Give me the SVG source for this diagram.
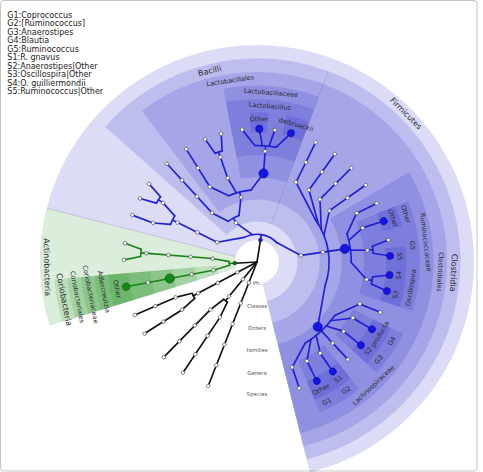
<svg xmlns="http://www.w3.org/2000/svg" width="483" height="472" viewBox="0 0 483 472">
<style>
.sec{fill:none}
.sb{stroke:#2828c8;stroke-opacity:.16}
.sg{stroke:#1e8c1e;stroke-opacity:.16}
.k{stroke:#111}
.bl{stroke:#1f1fd8}
.gl{stroke:#178417}
#connectors line,#connectors circle{fill:none;stroke-width:1.65;stroke-linecap:round}
.n{fill:#fff;stroke:#555;stroke-width:.7}
.bb{fill:#1515e6;stroke:#0c0c8c;stroke-width:.6}
.gg{fill:#148c14;stroke:#0b500b;stroke-width:.6}
.bd{fill:#1a1ac8;stroke:#0c0c70;stroke-width:.5}
.gd{fill:#136813;stroke:#0a400a;stroke-width:.5}
.t{font-family:"DejaVu Sans",sans-serif;fill:#2a2a2a;text-anchor:middle;dominant-baseline:central}
.c{font-size:8px}
.s{font-size:6.5px}
.lv{font-family:"DejaVu Sans",sans-serif;font-size:5.3px;fill:#555;text-anchor:middle;dominant-baseline:central}
.lg{font-family:"DejaVu Sans",sans-serif;font-size:8px;fill:#222}
</style>
<rect x="0.5" y="0.5" width="476.5" height="470.5" rx="3" fill="#fff" stroke="#c4c4c4"/>
<g id="legend" class="lg">
<text x="7.3" y="17.6">G1:Coprococcus</text>
<text x="7.3" y="26.1">G2:[Ruminococcus]</text>
<text x="7.3" y="34.6">G3:Anaerostipes</text>
<text x="7.3" y="43.2">G4:Blautia</text>
<text x="7.3" y="51.7">G5:Ruminococcus</text>
<text x="7.3" y="60.2">S1:R. gnavus</text>
<text x="7.3" y="68.7">S2:Anaerostipes|Other</text>
<text x="7.3" y="77.2">S3:Oscillospira|Other</text>
<text x="7.3" y="85.8">S4:O. guilliermondii</text>
<text x="7.3" y="94.3">S5:Ruminococcus|Other</text>
</g>
<g id="cladogram" transform="translate(257 262)">
<!-- clade shading: thick dashed circles give annular sectors, one per highlighted clade -->
<g id="shading" class="sec">
<circle class="sb" r="117.6" stroke-width="198.8" stroke-dasharray="495.58 2000" transform="rotate(194.35)"/>
<circle class="sb" r="121.95" stroke-width="163.1" stroke-dasharray="146.33 2000" transform="rotate(221.7)"/>
<circle class="sb" r="126.3" stroke-width="127.4" stroke-dasharray="127.3 2000" transform="rotate(232.7)"/>
<circle class="sb" r="130.65" stroke-width="91.7" stroke-dasharray="71.72 2000" transform="rotate(259)"/>
<circle class="sb" r="135" stroke-width="56" stroke-dasharray="74.1 2000" transform="rotate(259)"/>
<circle class="sb" r="139.35" stroke-width="20.3" stroke-dasharray="17.15 2000" transform="rotate(267.3)"/>
<circle class="sb" r="139.35" stroke-width="20.3" stroke-dasharray="22.38 2000" transform="rotate(281.25)"/>
<circle class="sb" r="121.95" stroke-width="163.1" stroke-dasharray="309.37 2000" transform="rotate(290.45)"/>
<circle class="sb" r="126.3" stroke-width="127.4" stroke-dasharray="320.4 2000" transform="rotate(290.45)"/>
<circle class="sb" r="130.65" stroke-width="91.7" stroke-dasharray="109.68 2000" transform="rotate(329.3)"/>
<circle class="sb" r="135" stroke-width="56" stroke-dasharray="19.56 2000" transform="rotate(338)"/>
<circle class="sb" r="139.35" stroke-width="20.3" stroke-dasharray="20.19 2000" transform="rotate(338)"/>
<circle class="sb" r="135" stroke-width="56" stroke-dasharray="35.81 2000" transform="rotate(346.3)"/>
<circle class="sb" r="139.35" stroke-width="20.3" stroke-dasharray="18.36 2000" transform="rotate(353.95)"/>
<circle class="sb" r="135" stroke-width="56" stroke-dasharray="37.46 2000" transform="rotate(1.5)"/>
<circle class="sb" r="139.35" stroke-width="20.3" stroke-dasharray="18.48 2000" transform="rotate(1.5)"/>
<circle class="sb" r="139.35" stroke-width="20.3" stroke-dasharray="20.19 2000" transform="rotate(9.1)"/>
<circle class="sb" r="130.65" stroke-width="91.7" stroke-dasharray="133.17 2000" transform="rotate(17.4)"/>
<circle class="sb" r="135" stroke-width="56" stroke-dasharray="19.44 2000" transform="rotate(26.25)"/>
<circle class="sb" r="139.35" stroke-width="20.3" stroke-dasharray="20.07 2000" transform="rotate(26.25)"/>
<circle class="sb" r="135" stroke-width="56" stroke-dasharray="19.67 2000" transform="rotate(34.5)"/>
<circle class="sb" r="139.35" stroke-width="20.3" stroke-dasharray="20.31 2000" transform="rotate(34.5)"/>
<circle class="sb" r="135" stroke-width="56" stroke-dasharray="19.2 2000" transform="rotate(51.15)"/>
<circle class="sb" r="139.35" stroke-width="20.3" stroke-dasharray="19.82 2000" transform="rotate(51.15)"/>
<circle class="sb" r="135" stroke-width="56" stroke-dasharray="19.09 2000" transform="rotate(59.3)"/>
<circle class="sb" r="139.35" stroke-width="20.3" stroke-dasharray="19.7 2000" transform="rotate(59.3)"/>
<circle class="sg" r="117.6" stroke-width="198.8" stroke-dasharray="64.55 2000" transform="rotate(162.9)"/>
<circle class="sg" r="121.95" stroke-width="163.1" stroke-dasharray="25.97 2000" transform="rotate(162.9)"/>
<circle class="sg" r="126.3" stroke-width="127.4" stroke-dasharray="26.89 2000" transform="rotate(162.9)"/>
<circle class="sg" r="130.65" stroke-width="91.7" stroke-dasharray="27.82 2000" transform="rotate(162.9)"/>
<circle class="sg" r="135" stroke-width="56" stroke-dasharray="28.75 2000" transform="rotate(162.9)"/>
<circle class="sg" r="139.35" stroke-width="20.3" stroke-dasharray="29.67 2000" transform="rotate(162.9)"/>
<g stroke="#7a7aa8" stroke-opacity=".45" stroke-width=".6">
<line x1="22" x2="217" transform="rotate(194.35)"/>
<line x1="40.4" x2="203.5" transform="rotate(290.45)"/>
</g>
<circle r="22" fill="#fff"/>
</g>
<g id="level-names">
<text class="lv" x="0" y="21.4">Ph.</text>
<text class="lv" x="0" y="43.8">Classes</text>
<text class="lv" x="0" y="66.1">Orders</text>
<text class="lv" x="0" y="88.1">Families</text>
<text class="lv" x="0" y="110.6">Genera</text>
<text class="lv" x="0" y="132.4">Species</text>
</g>
<g id="connectors">
<g class="k">
<line x2="133.2" transform="rotate(111.5)"/>
<line x2="49.9" transform="rotate(129.1)"/>
<circle r="49.9" stroke-dasharray="4.616 2000" transform="rotate(126.45)"/>
<line x1="49.9" x2="66.53" y2="-3.08" transform="rotate(126.45)"/>
<line x1="49.9" x2="66.53" y2="3.08" transform="rotate(131.75)"/>
<line x1="66.6" x2="133.2" transform="rotate(123.8)"/>
<line x1="66.6" x2="133.2" transform="rotate(134.4)"/>
<line x2="72.1" transform="rotate(152)"/>
<circle r="72.1" stroke-dasharray="5.663 2000" transform="rotate(149.75)"/>
<line x1="72.1" x2="88.73" y2="-3.49" transform="rotate(149.75)"/>
<line x1="72.1" x2="88.73" y2="3.49" transform="rotate(154.25)"/>
<line x1="88.8" x2="133.2" transform="rotate(147.5)"/>
<line x1="88.8" x2="133.2" transform="rotate(156.5)"/>
<line x2="22.2" transform="rotate(176.9)"/>
<line x2="22.2" transform="rotate(278.95)"/>
</g>
<g class="gl">
<line x1="22.2" x2="27.7" transform="rotate(176.9)"/>
<circle r="27.7" stroke-dasharray="3.674 2000" transform="rotate(173.1)"/>
<line x1="27.7" x2="44.3" y2="-2.94" transform="rotate(173.1)"/>
<line x1="27.7" x2="44.3" y2="2.94" transform="rotate(180.7)"/>
<line x1="44.4" x2="133.2" transform="rotate(169.3)"/>
<line x1="44.4" x2="116.5" transform="rotate(184.5)"/>
<circle r="116.5" stroke-dasharray="7.32 2000" transform="rotate(182.7)"/>
<line x1="116.5" x2="133.13" y2="-4.18" transform="rotate(182.7)"/>
<line x1="116.5" x2="133.13" y2="4.18" transform="rotate(186.3)"/>
</g>
<g class="bl">
<line x1="22.2" x2="27.7" transform="rotate(278.95)"/>
<circle r="27.7" stroke-dasharray="35.07 2000" transform="rotate(242.675)"/>
<line x1="27.7" x2="35.79" y2="-26.27" transform="rotate(242.675)"/>
<line x1="27.7" x2="42.08" y2="-14.15" transform="rotate(260.365)"/>
<line x1="27.7" x2="35.79" y2="26.27" transform="rotate(315.225)"/>
<line x1="44.4" x2="94.3" transform="rotate(206.4)"/>
<circle r="94.3" stroke-dasharray="9.546 2000" transform="rotate(203.5)"/>
<line x1="94.3" x2="110.86" y2="-5.62" transform="rotate(203.5)"/>
<line x1="94.3" x2="110.86" y2="5.62" transform="rotate(209.3)"/>
<line x1="111" x2="133.2" transform="rotate(200.6)"/>
<line x1="111" x2="116.5" transform="rotate(212.2)"/>
<circle r="116.5" stroke-dasharray="7.523 2000" transform="rotate(210.35)"/>
<line x1="116.5" x2="133.13" y2="-4.3" transform="rotate(210.35)"/>
<line x1="116.5" x2="133.13" y2="4.3" transform="rotate(214.05)"/>
<line x1="44.4" x2="49.9" transform="rotate(241.78)"/>
<circle r="49.9" stroke-dasharray="12.432 2000" transform="rotate(234.64)"/>
<line x1="49.9" x2="66.08" y2="-8.28" transform="rotate(234.64)"/>
<line x1="49.9" x2="66.08" y2="8.28" transform="rotate(248.915)"/>
<line x1="66.6" x2="133.2" transform="rotate(227.5)"/>
<line x1="66.6" x2="72.1" transform="rotate(256.05)"/>
<circle r="72.1" stroke-dasharray="22.84 2000" transform="rotate(246.975)"/>
<line x1="72.1" x2="87.69" y2="-14" transform="rotate(246.975)"/>
<line x1="72.1" x2="88.7" y2="-4.11" transform="rotate(253.4)"/>
<line x1="72.1" x2="87.69" y2="14" transform="rotate(265.125)"/>
<line x1="88.8" x2="133.2" transform="rotate(237.9)"/>
<line x1="88.8" x2="116.5" transform="rotate(250.75)"/>
<circle r="116.5" stroke-dasharray="7.421 2000" transform="rotate(248.925)"/>
<line x1="116.5" x2="133.13" y2="-4.24" transform="rotate(248.925)"/>
<line x1="116.5" x2="133.13" y2="4.24" transform="rotate(252.575)"/>
<line x1="88.8" x2="116.5" transform="rotate(274.2)"/>
<circle r="116.5" stroke-dasharray="21.553 2000" transform="rotate(268.9)"/>
<line x1="116.5" x2="132.63" y2="-12.3" transform="rotate(268.9)"/>
<line x1="116.5" x2="133.15" y2="-3.72" transform="rotate(272.6)"/>
<line x1="116.5" x2="133.14" y2="4.07" transform="rotate(275.95)"/>
<line x1="116.5" x2="132.63" y2="12.3" transform="rotate(279.5)"/>
<line x1="44.4" x2="72.1" transform="rotate(351.5)"/>
<circle r="72.1" stroke-dasharray="69.68 2000" transform="rotate(323.8)"/>
<line x1="72.1" x2="78.62" y2="-41.28" transform="rotate(323.8)"/>
<line x1="72.1" x2="81.83" y2="-34.49" transform="rotate(328.65)"/>
<line x1="72.1" x2="84.36" y2="-27.74" transform="rotate(333.3)"/>
<line x1="72.1" x2="86.38" y2="-20.58" transform="rotate(338.1)"/>
<line x1="72.1" x2="94.3" transform="rotate(351.5)"/>
<line x1="72.1" x2="78.64" y2="41.24" transform="rotate(19.175)"/>
<line x1="88.8" x2="133.2" transform="rotate(296.1)"/>
<line x1="88.8" x2="133.2" transform="rotate(305.8)"/>
<line x1="88.8" x2="133.2" transform="rotate(315.1)"/>
<line x1="88.8" x2="133.2" transform="rotate(324.7)"/>
<circle r="94.3" stroke-dasharray="28.97 2000" transform="rotate(342.7)"/>
<line x1="94.3" x2="109.69" y2="-16.98" transform="rotate(342.7)"/>
<line x1="94.3" x2="110.63" y2="-9.1" transform="rotate(346.8)"/>
<line x1="94.3" x2="110.97" y2="2.37" transform="rotate(352.725)"/>
<line x1="94.3" x2="109.69" y2="16.98" transform="rotate(0.3)"/>
<line x1="111" x2="133.2" transform="rotate(333.9)"/>
<line x1="111" x2="133.2" transform="rotate(342.1)"/>
<line x1="111" x2="116.5" transform="rotate(353.95)"/>
<circle r="116.5" stroke-dasharray="7.015 2000" transform="rotate(352.225)"/>
<line x1="116.5" x2="133.14" y2="-4.01" transform="rotate(352.225)"/>
<line x1="116.5" x2="133.14" y2="4.01" transform="rotate(355.675)"/>
<line x1="111" x2="116.5" transform="rotate(9.1)"/>
<circle r="116.5" stroke-dasharray="7.117 2000" transform="rotate(7.35)"/>
<line x1="116.5" x2="133.14" y2="-4.07" transform="rotate(7.35)"/>
<line x1="116.5" x2="133.14" y2="4.07" transform="rotate(10.85)"/>
<line x1="88.8" x2="94.3" transform="rotate(46.85)"/>
<circle r="94.3" stroke-dasharray="40.57 2000" transform="rotate(34.525)"/>
<line x1="94.3" x2="108.44" y2="-23.69" transform="rotate(34.525)"/>
<line x1="94.3" x2="109.84" y2="-15.98" transform="rotate(38.575)"/>
<line x1="94.3" x2="110.72" y2="-7.89" transform="rotate(42.775)"/>
<line x1="94.3" x2="111" y2="0.15" transform="rotate(46.925)"/>
<line x1="94.3" x2="110.7" y2="8.18" transform="rotate(51.075)"/>
<line x1="94.3" x2="109.86" y2="15.88" transform="rotate(55.075)"/>
<line x1="94.3" x2="108.44" y2="23.69" transform="rotate(59.175)"/>
<line x1="111" x2="133.2" transform="rotate(22.2)"/>
<line x1="111" x2="133.2" transform="rotate(30.3)"/>
<line x1="111" x2="133.2" transform="rotate(38.7)"/>
<line x1="111" x2="133.2" transform="rotate(47)"/>
<line x1="111" x2="133.2" transform="rotate(55.3)"/>
<line x1="111" x2="133.2" transform="rotate(63.3)"/>
<line x1="111" x2="133.2" transform="rotate(71.5)"/>
</g>
</g>
<g id="nodes">
<g id="phylum-a" transform="rotate(111.5)"><circle class="n" cx="22.2" r="1.8"/><circle class="n" cx="44.4" r="1.8"/><circle class="n" cx="66.6" r="1.8"/><circle class="n" cx="88.8" r="1.8"/><circle class="n" cx="111" r="1.8"/><circle class="n" cx="133.2" r="1.8"/></g>
<g id="phylum-b" transform="rotate(129.1)"><circle class="n" cx="22.2" r="1.8"/><circle class="n" cx="44.4" r="1.8"/></g>
<g id="phylum-b-order-1" transform="rotate(123.8)"><circle class="n" cx="66.6" r="1.8"/><circle class="n" cx="88.8" r="1.8"/><circle class="n" cx="111" r="1.8"/><circle class="n" cx="133.2" r="1.8"/></g>
<g id="phylum-b-order-2" transform="rotate(134.4)"><circle class="n" cx="66.6" r="1.8"/><circle class="n" cx="88.8" r="1.8"/><circle class="n" cx="111" r="1.8"/><circle class="n" cx="133.2" r="1.8"/></g>
<g id="phylum-c" transform="rotate(152)"><circle class="n" cx="22.2" r="1.8"/><circle class="n" cx="44.4" r="1.8"/><circle class="n" cx="66.6" r="1.8"/></g>
<g id="phylum-c-family-1" transform="rotate(147.5)"><circle class="n" cx="88.8" r="1.8"/><circle class="n" cx="111" r="1.8"/><circle class="n" cx="133.2" r="1.8"/></g>
<g id="phylum-c-family-2" transform="rotate(156.5)"><circle class="n" cx="88.8" r="1.8"/><circle class="n" cx="111" r="1.8"/><circle class="n" cx="133.2" r="1.8"/></g>
<g id="actinobacteria"><circle class="gd" cx="22.2" r="1.9" transform="rotate(176.9)"/><text class="t c" transform="rotate(178.6) translate(210.2) rotate(-90)">Actinobacteria</text></g>
<g id="coriobacteria"><circle class="n" cx="44.4" r="1.8" transform="rotate(169.3)"/><text class="t c" transform="rotate(169) translate(196.7) rotate(-90)">Coriobacteria</text></g>
<g id="coriobacteriales"><circle class="n" cx="66.6" r="1.8" transform="rotate(169.3)"/><text class="t s" transform="rotate(169) translate(183.2) rotate(-90)">Coriobacteriales</text></g>
<g id="coriobacteriaceae"><circle class="gg" cx="88.8" r="4.6" transform="rotate(169.3)"/><text class="t s" transform="rotate(169) translate(169.7) rotate(-90)">Coriobacteriaceae</text></g>
<g id="adlercreutzia"><circle class="n" cx="111" r="1.8" transform="rotate(169.3)"/><text class="t s" transform="rotate(169) translate(156.2) rotate(-90)">Adlercreutzia</text></g>
<g id="adlercreutzia-other"><circle class="gg" cx="133.2" r="3.6" transform="rotate(169.3)"/><text class="t s" transform="rotate(169) translate(142.7) rotate(-90)">Other</text></g>
<g id="actino-class-2" transform="rotate(184.5)"><circle class="n" cx="44.4" r="1.8"/><circle class="n" cx="66.6" r="1.8"/><circle class="n" cx="88.8" r="1.8"/><circle class="n" cx="111" r="1.8"/></g>
<g id="actino-leaf-1"><circle class="n" cx="133.2" r="1.8" transform="rotate(180.9)"/></g>
<g id="actino-leaf-2"><circle class="n" cx="133.2" r="1.8" transform="rotate(188.1)"/></g>
<g id="firmicutes"><circle class="bd" cx="22.2" r="1.9" transform="rotate(278.95)"/><text class="t c" transform="rotate(315.1) translate(210.2) rotate(90)">Firmicutes</text></g>
<g id="firm-class-a" transform="rotate(206.4)"><circle class="n" cx="44.4" r="1.8"/><circle class="n" cx="66.6" r="1.8"/><circle class="n" cx="88.8" r="1.8"/></g>
<g id="firm-class-a-genus-1" transform="rotate(200.6)"><circle class="n" cx="111" r="1.8"/><circle class="n" cx="133.2" r="1.8"/></g>
<g id="firm-class-a-genus-2"><circle class="n" cx="111" r="1.8" transform="rotate(212.2)"/><circle class="n" cx="133.2" r="1.8" transform="rotate(208.5)"/><circle class="n" cx="133.2" r="1.8" transform="rotate(215.9)"/></g>
<g id="bacilli"><circle class="n" cx="44.4" r="1.8" transform="rotate(241.78)"/><text class="t c" transform="rotate(256.1) translate(196.7) rotate(90)">Bacilli</text></g>
<g id="bacilli-order-1" transform="rotate(227.5)"><circle class="n" cx="66.6" r="1.8"/><circle class="n" cx="88.8" r="1.8"/><circle class="n" cx="111" r="1.8"/><circle class="n" cx="133.2" r="1.8"/></g>
<g id="lactobacillales"><circle class="n" cx="66.6" r="1.8" transform="rotate(256.05)"/><text class="t s" transform="rotate(261.6) translate(183.2) rotate(90)">Lactobacillales</text></g>
<g id="lacto-family-1" transform="rotate(237.9)"><circle class="n" cx="88.8" r="1.8"/><circle class="n" cx="111" r="1.8"/><circle class="n" cx="133.2" r="1.8"/></g>
<g id="lacto-family-2"><circle class="n" cx="88.8" r="1.8" transform="rotate(250.75)"/><circle class="n" cx="111" r="1.8" transform="rotate(250.75)"/><circle class="n" cx="133.2" r="1.8" transform="rotate(247.1)"/><circle class="n" cx="133.2" r="1.8" transform="rotate(254.4)"/></g>
<g id="lactobacillaceae"><circle class="bb" cx="88.8" r="4.6" transform="rotate(274.2)"/><text class="t s" transform="rotate(274.7) translate(169.7) rotate(90)">Lactobacillaceae</text></g>
<g id="lactobacillus"><circle class="n" cx="111" r="1.8" transform="rotate(274.2)"/><text class="t s" transform="rotate(274.7) translate(156.2) rotate(90)">Lactobacillus</text></g>
<g id="lactobacillus-leaves"><circle class="n" cx="133.2" r="1.8" transform="rotate(263.6)"/><circle class="n" cx="133.2" r="1.8" transform="rotate(277.7)"/></g>
<g id="lactobacillus-other"><circle class="bb" cx="133.2" r="3.7" transform="rotate(271)"/><text class="t s" transform="rotate(270.8) translate(142.7) rotate(90)">Other</text></g>
<g id="delbrueckii"><circle class="bb" cx="133.2" r="3.5" transform="rotate(284.8)"/><text class="t s" transform="rotate(285.85) translate(142.7) rotate(90)">delbrueckii</text></g>
<g id="clostridia"><circle class="n" cx="44.4" r="1.8" transform="rotate(351.5)"/><text class="t c" transform="rotate(3.1) translate(196.7) rotate(90)">Clostridia</text></g>
<g id="clostridiales"><circle class="n" cx="66.6" r="1.8" transform="rotate(351.5)"/><text class="t s" transform="rotate(3.1) translate(183.2) rotate(90)">Clostridiales</text></g>
<g id="clos-family-1" transform="rotate(296.1)"><circle class="n" cx="88.8" r="1.8"/><circle class="n" cx="111" r="1.8"/><circle class="n" cx="133.2" r="1.8"/></g>
<g id="clos-family-2" transform="rotate(305.8)"><circle class="n" cx="88.8" r="1.8"/><circle class="n" cx="111" r="1.8"/><circle class="n" cx="133.2" r="1.8"/></g>
<g id="clos-family-3" transform="rotate(315.1)"><circle class="n" cx="88.8" r="1.8"/><circle class="n" cx="111" r="1.8"/><circle class="n" cx="133.2" r="1.8"/></g>
<g id="clos-family-4" transform="rotate(324.7)"><circle class="n" cx="88.8" r="1.8"/><circle class="n" cx="111" r="1.8"/><circle class="n" cx="133.2" r="1.8"/></g>
<g id="ruminococcaceae"><circle class="bb" cx="88.8" r="4.6" transform="rotate(351.5)"/><text class="t s" transform="rotate(353.35) translate(169.7) rotate(90)">Ruminococcaceae</text></g>
<g id="rumino-genus-1" transform="rotate(333.9)"><circle class="n" cx="111" r="1.8"/><circle class="n" cx="133.2" r="1.8"/></g>
<g id="rumino-other-genus"><circle class="n" cx="111" r="1.8" transform="rotate(342.1)"/><text class="t s" transform="rotate(342.15) translate(156.2) rotate(90)">Other</text></g>
<g id="rumino-other-species"><circle class="bb" cx="133.2" r="3.5" transform="rotate(342.1)"/><text class="t s" transform="rotate(342.15) translate(142.7) rotate(90)">Other</text></g>
<g id="g5"><circle class="n" cx="111" r="1.8" transform="rotate(353.95)"/><circle class="n" cx="133.2" r="1.8" transform="rotate(350.5)"/><text class="t s" transform="rotate(353.9) translate(156.2) rotate(90)">G5</text></g>
<g id="s5"><circle class="bb" cx="133.2" r="3.5" transform="rotate(357.4)"/><text class="t s" transform="rotate(357.7) translate(142.7) rotate(90)">S5</text></g>
<g id="oscillospira"><circle class="n" cx="111" r="1.8" transform="rotate(9.1)"/><text class="t s" transform="rotate(9.45) translate(156.2) rotate(-90)">Oscillospira</text></g>
<g id="s4"><circle class="bb" cx="133.2" r="3.5" transform="rotate(5.6)"/><text class="t s" transform="rotate(5.3) translate(142.7) rotate(-90)">S4</text></g>
<g id="s3"><circle class="bb" cx="133.2" r="3.5" transform="rotate(12.6)"/><text class="t s" transform="rotate(13.25) translate(142.7) rotate(-90)">S3</text></g>
<g id="lachnospiraceae"><circle class="bb" cx="88.8" r="4.6" transform="rotate(46.85)"/><text class="t s" transform="rotate(46.6) translate(169.7) rotate(-90)">Lachnospiraceae</text></g>
<g id="lachno-genus-1" transform="rotate(22.2)"><circle class="n" cx="111" r="1.8"/><circle class="n" cx="133.2" r="1.8"/></g>
<g id="g4"><circle class="n" cx="111" r="1.8" transform="rotate(30.3)"/><text class="t s" transform="rotate(30.4) translate(156.2) rotate(-90)">G4</text></g>
<g id="producta"><circle class="bb" cx="133.2" r="3.5" transform="rotate(30.3)"/><text class="t s" transform="rotate(30.4) translate(142.7) rotate(-90)">producta</text></g>
<g id="g3"><circle class="n" cx="111" r="1.8" transform="rotate(38.7)"/><text class="t s" transform="rotate(38.7) translate(156.2) rotate(-90)">G3</text></g>
<g id="s2"><circle class="bb" cx="133.2" r="3.5" transform="rotate(38.7)"/><text class="t s" transform="rotate(38.7) translate(142.7) rotate(-90)">S2</text></g>
<g id="lachno-genus-4" transform="rotate(47)"><circle class="n" cx="111" r="1.8"/><circle class="n" cx="133.2" r="1.8"/></g>
<g id="g2"><circle class="n" cx="111" r="1.8" transform="rotate(55.3)"/><text class="t s" transform="rotate(55.2) translate(156.2) rotate(-90)">G2</text></g>
<g id="s1"><circle class="bb" cx="133.2" r="3.5" transform="rotate(55.3)"/><text class="t s" transform="rotate(55.2) translate(142.7) rotate(-90)">S1</text></g>
<g id="g1"><circle class="n" cx="111" r="1.8" transform="rotate(63.3)"/><text class="t s" transform="rotate(63.35) translate(156.2) rotate(-90)">G1</text></g>
<g id="g1-other"><circle class="bb" cx="133.2" r="3.5" transform="rotate(63.3)"/><text class="t s" transform="rotate(63.35) translate(142.7) rotate(-90)">Other</text></g>
<g id="lachno-genus-7" transform="rotate(71.5)"><circle class="n" cx="111" r="1.8"/><circle class="n" cx="133.2" r="1.8"/></g>
</g>
</g>
</svg>
